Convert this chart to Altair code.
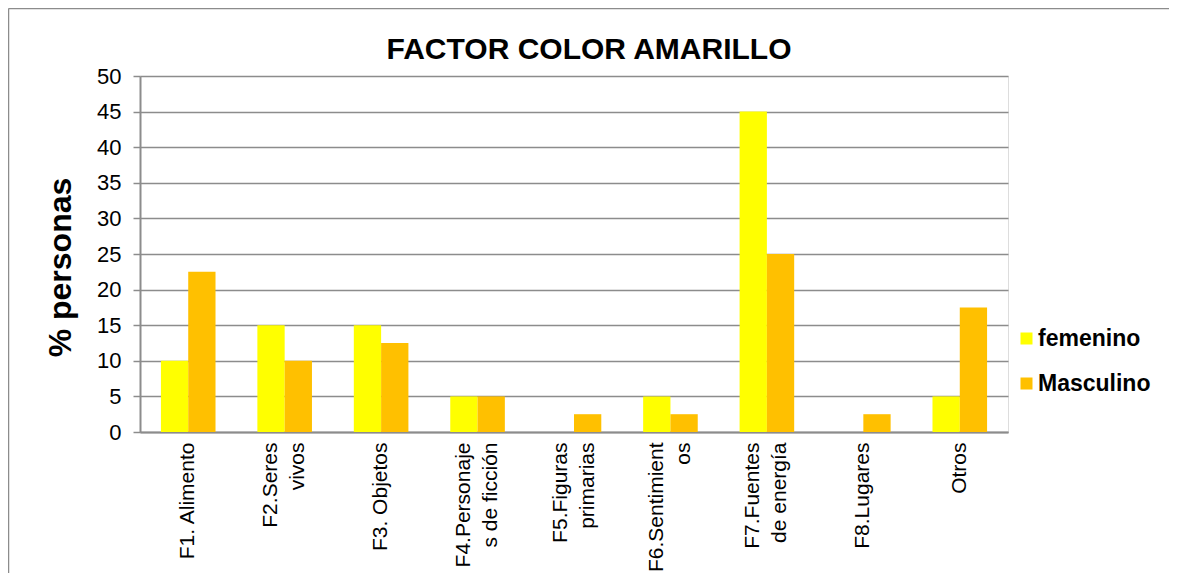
import altair as alt
import pandas as pd

categories = ["F1. Alimento", "F2.Seres|vivos", "F3. Objetos", "F4.Personaje|s de ficción",
              "F5.Figuras|primarias", "F6.Sentimient|os", "F7.Fuentes|de energía",
              "F8.Lugares", "Otros"]
series = ["femenino", "Masculino"]
femenino = [10, 15, 15, 5, 0, 5, 45, 0, 5]
masculino = [22.5, 10, 12.5, 5, 2.5, 2.5, 25, 2.5, 17.5]
colors = ["#FFFF00", "#FFC000"]

rows = []
for c, f, m in zip(categories, femenino, masculino):
    rows.append({"cat": c, "serie": "femenino", "val": f})
    rows.append({"cat": c, "serie": "Masculino", "val": m})
df = pd.DataFrame(rows)

FONT = "Liberation Sans"
GRAY = "#8c8c8c"

bars = alt.Chart(df).mark_bar(size=27.3).encode(
    x=alt.X("cat:N", sort=categories, title=None,
            scale=alt.Scale(paddingInner=0.434, paddingOuter=0.217),
            axis=alt.Axis(labelAngle=270, labelAlign="right", labelBaseline="middle",
                          labelPadding=10, labelFontSize=21, labelLineHeight=27,
                          labelFont=FONT, labelColor="#000000", ticks=False,
                          labelOffset={"condition": {"test": "indexof(datum.value, '|') >= 0",
                                                     "value": -13.5}, "value": 0},
                          domainColor=GRAY, domainWidth=2, grid=False,
                          labelExpr="split(datum.label, '|')")),
    xOffset=alt.XOffset("serie:N", sort=series, scale=alt.Scale(paddingInner=0, paddingOuter=0)),
    y=alt.Y("val:Q", scale=alt.Scale(domain=[0, 50]), title="% personas",
            axis=alt.Axis(values=list(range(0, 55, 5)), labelFontSize=22, labelFont=FONT,
                          labelColor="#000000", labelPadding=12, tickSize=7, tickColor=GRAY,
                          tickWidth=1.5, domainColor=GRAY, domainWidth=2, gridColor=GRAY,
                          gridWidth=1.5, titleFont=FONT, titleFontSize=32, titleFontWeight="bold",
                          titleColor="#000000", titleAngle=270, titleAlign="center",
                          titleBaseline="middle", titleX=-80, titleY=191)),
    color=alt.Color("serie:N", sort=series, scale=alt.Scale(domain=series, range=colors),
                    legend=alt.Legend(title=None, orient="none", legendX=875, legendY=251,
                                      symbolType="square", symbolSize=144, symbolStrokeWidth=0,
                                      labelFontSize=23, labelFont=FONT, labelFontWeight="bold",
                                      labelColor="#000000", rowPadding=21, labelOffset=0,
                                      padding=0)),
)

frame_df = pd.DataFrame({"k": [0]})
frame_top = alt.Chart(frame_df).mark_rule(color=GRAY, strokeWidth=1.5).encode(
    x=alt.value(-131.5), x2=alt.value(1040), y=alt.value(-67.5))
frame_left = alt.Chart(frame_df).mark_rule(color=GRAY, strokeWidth=1.5).encode(
    x=alt.value(-131.5), y=alt.value(-67.5), y2=alt.value(505))

chart = alt.layer(bars, frame_top, frame_left).properties(
    width=868, height=356,
    title=alt.TitleParams("FACTOR COLOR AMARILLO", font=FONT, fontSize=30, fontWeight="bold",
                          color="#000000", anchor="middle", dx=15, dy=81, offset=0,
                          baseline="alphabetic"),
    autosize=alt.AutoSizeParams(type="none"),
    padding={"left": 132, "top": 68, "right": 161, "bottom": 141},
).configure_view(stroke=None).configure(background="white")

chart.save("out.html", embed_options={"renderer": "svg", "actions": False})
